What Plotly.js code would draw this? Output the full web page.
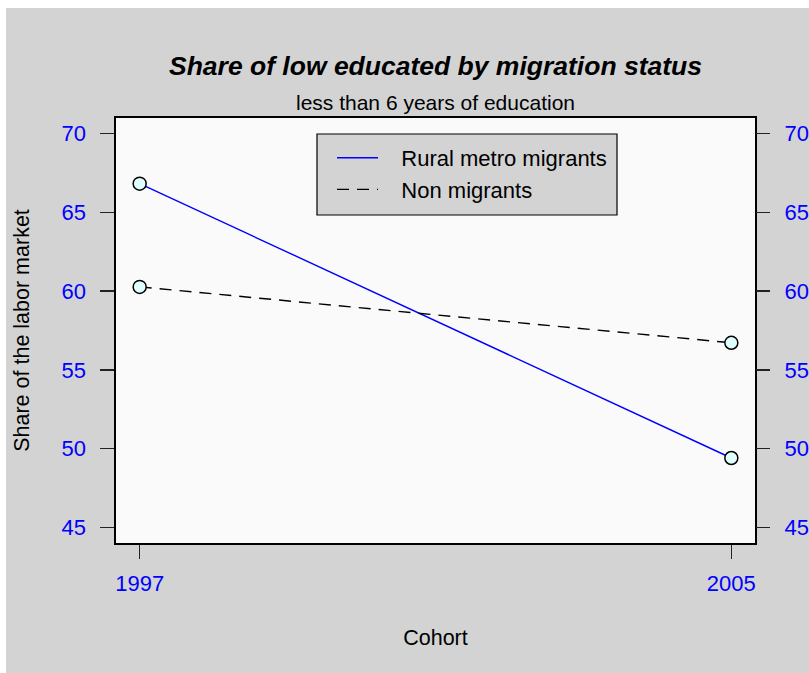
<!DOCTYPE html>
<html>
<head>
<meta charset="utf-8">
<script src="https://cdn.plot.ly/plotly-3.0.1.min.js"></script>
<style>html,body{margin:0;padding:0;background:#ffffff;}#chart{width:809px;height:673px;}</style>
</head>
<body>
<div id="chart"></div>
<script>
// Data
const cohorts = [1997, 2005];
const ruralMetroMigrants = [66.83, 49.40];
const nonMigrants = [60.27, 56.72];
const seriesNames = ["Rural metro migrants", "Non migrants"];
const yTicks = [45, 50, 55, 60, 65, 70];

const FONT = "Liberation Sans, Arial, Helvetica, sans-serif";
const BLUE = "#0000ff";
const GAP = "\u00a0\u00a0\u00a0";

const traces = [
  {x: cohorts, y: ruralMetroMigrants, name: GAP + seriesNames[0], mode: "lines",
   line: {color: BLUE, width: 1.4}, xaxis: "x", yaxis: "y"},
  {x: cohorts, y: nonMigrants, name: GAP + seriesNames[1], mode: "lines",
   line: {color: "#000000", width: 1.4, dash: "12px,8px"}, xaxis: "x", yaxis: "y"},
  {x: cohorts.concat(cohorts), y: ruralMetroMigrants.concat(nonMigrants), mode: "markers",
   showlegend: false, hoverinfo: "skip",
   marker: {size: 13, color: "#e0ffff", line: {color: "#000000", width: 1.5}},
   xaxis: "x", yaxis: "y2"}
];

const L = 116, R = 755, T = 118, B = 543, W = 809, H = 673;
const pw = R - L, ph = B - T;
const px = v => (v - L) / pw;
const py = v => 1 - (v - T) / ph;

const layout = {
  width: W, height: H,
  margin: {l: L, r: W - R, t: T, b: H - B, pad: 0},
  paper_bgcolor: "#d3d3d3",
  plot_bgcolor: "#fafafa",
  font: {family: FONT, size: 22, color: "#000000"},
  showlegend: true,
  title: {text: "<b><i>Share of low educated by migration status</i></b>",
          font: {family: FONT, size: 26.5, color: "#000000"},
          x: 0.5, xref: "paper", xanchor: "center",
          y: 1 - 66 / H, yref: "container", yanchor: "middle"},
  xaxis: {
    range: [1996.68, 2005.32], tickvals: cohorts, ticktext: cohorts.map(String),
    ticks: "outside", ticklen: 14, tickwidth: 1.3, tickcolor: "#222222",
    tickfont: {family: FONT, size: 22, color: BLUE},
    ticklabelstandoff: 6,
    showline: true, mirror: true, linecolor: "#000000", linewidth: 1.6,
    showgrid: false, zeroline: false,
    title: {text: "Cohort", font: {family: FONT, size: 21.5, color: "#000000"}, standoff: 35}
  },
  yaxis: {
    range: [44, 71], tickvals: yTicks,
    ticks: "outside", ticklen: 14, tickwidth: 1.3, tickcolor: "#222222",
    tickfont: {family: FONT, size: 22, color: BLUE},
    ticklabelstandoff: 10,
    showline: true, mirror: true, linecolor: "#000000", linewidth: 1.6,
    showgrid: false, zeroline: false,
    title: {text: "Share of the labor market", font: {family: FONT, size: 21.5, color: "#000000"}, standoff: 26}
  },
  yaxis2: {
    range: [44, 71], tickvals: yTicks, overlaying: "y", side: "right", anchor: "x",
    ticks: "outside", ticklen: 14, tickwidth: 1.3, tickcolor: "#222222",
    tickfont: {family: FONT, size: 22, color: BLUE},
    ticklabelstandoff: 10,
    showline: false, showgrid: false, zeroline: false
  },
  legend: {
    x: px(332), y: py(137), xanchor: "left", yanchor: "top",
    bgcolor: "rgba(0,0,0,0)", borderwidth: 0,
    font: {family: FONT, size: 22, color: "#000000"},
    itemwidth: 41, tracegroupgap: 0
  },
  annotations: [
    {text: "less than 6 years of education", xref: "paper", yref: "paper",
     x: 0.5, y: py(103), xanchor: "center", yanchor: "middle", showarrow: false,
     font: {family: FONT, size: 21, color: "#000000"}}
  ],
  shapes: [
    {type: "rect", xref: "paper", yref: "paper", x0: px(0), x1: px(W), y0: py(8), y1: py(0),
     fillcolor: "#ffffff", line: {width: 0}, layer: "below"},
    {type: "rect", xref: "paper", yref: "paper", x0: px(0), x1: px(6), y0: py(H), y1: py(0),
     fillcolor: "#ffffff", line: {width: 0}, layer: "below"},
    {type: "rect", xref: "paper", yref: "paper", x0: px(317), x1: px(617), y0: py(215), y1: py(134),
     fillcolor: "#d3d3d3", line: {color: "#000000", width: 1.2}, layer: "above"}
  ]
};

Plotly.newPlot("chart", traces, layout, {displayModeBar: false, staticPlot: true});
</script>
</body>
</html>
